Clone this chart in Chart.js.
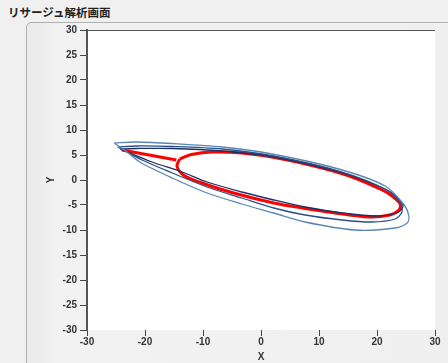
<!DOCTYPE html>
<html>
<head>
<meta charset="utf-8">
<script src="https://cdn.jsdelivr.net/npm/chart.js@4/dist/chart.umd.min.js"></script>
<style>
    html, body { margin: 0; padding: 0; }
    body { width: 448px; height: 363px; background: #f0f0f0; position: relative; overflow: hidden; font-family: "Noto Sans CJK JP", sans-serif; }
    #title { position: absolute; left: 8px; top: 4px; font-size: 11.5px; font-weight: bold; color: #222; }
    #panel { position: absolute; left: 26px; top: 22px; width: 440px; height: 360px; border: 1px solid #b0b0b0; border-radius: 5px; background: linear-gradient(to right, #eaeaea, #f2f2f2 30px, #efefef); }
    #wrap { position: absolute; left: 0; top: 0; width: 448px; height: 363px; }
</style>
</head>
<body>
<div id="title">リサージュ解析画面</div>
<div id="panel"></div>
<div id="wrap"><canvas id="lissajousChart"></canvas></div>
<script>
// tick values
const xTicks = [-30, -20, -10, 0, 10, 20, 30];
const yTicks = [-30, -25, -20, -15, -10, -5, 0, 5, 10, 15, 20, 25, 30];

// outer blue loop
const outerX = [-25.3, -23.1, -20.9, -15.3, -9.3, -3.3, 2.2, 7.6, 16.2, 23.1, 25.2, 25.5, 24.7, 21.4, 13.4, 1.9, -6.7, -15.3, -21.5, -25.3];
const outerY = [7.4, 5.6, 3.6, 0.4, -2.6, -4.8, -6.6, -8.4, -10.0, -9.6, -8.6, -7.2, -5.0, -1.2, 2.2, 5.2, 6.6, 7.3, 7.6, 7.4];

// middle blue loop
const middleX = [-24.7, -20.5, -15.3, -9.3, -3.3, 2.2, 7.6, 14.0, 19.1, 23.1, 24.3, 24.0, 21.7, 14.0, 2.2, -6.7, -15.3, -21.5, -24.7];
const middleY = [6.6, 4.0, 1.4, -1.4, -3.6, -5.6, -7.0, -8.0, -8.4, -7.8, -6.4, -4.6, -2.0, 1.6, 4.8, 6.2, 6.7, 6.8, 6.6];

// inner blue loop
const innerX = [-24.3, -18.8, -13.6, -9.3, -3.3, 2.2, 7.6, 14.0, 20.0, 23.4, 24.5, 23.4, 21.4, 14.0, 2.2, -6.7, -15.3, -21.5, -24.3];
const innerY = [6.2, 3.6, 1.6, -0.4, -2.4, -4.0, -5.4, -6.6, -7.2, -6.6, -5.2, -3.4, -1.8, 1.4, 4.6, 5.8, 6.3, 6.3, 6.2];

// red trace: straight tail into the loop
const redTailX = [-24.0, -14.6];
const redTailY = [6.0, 4.0];
const redLoopX = [-14.0, -14.5, -13.4, -10.2, -4.7, 2.2, 7.1, 12.8, 18.6, 22.2, 23.8, 24.0, 22.6, 20.9, 15.7, 10.5, 2.8, -3.3, -8.4, -12.0, -14.0];
const redLoopY = [4.2, 2.8, 1.0, -0.6, -2.6, -4.6, -5.6, -6.6, -7.4, -7.0, -6.0, -4.8, -3.2, -2.0, 0.6, 2.4, 4.4, 5.4, 5.6, 5.1, 4.2];

function toPoints(xs, ys) {
    return xs.map((x, i) => ({ x: x, y: ys[i] }));
}

function lineSet(xs, ys, color, width, tension) {
    return {
        data: toPoints(xs, ys),
        showLine: true,
        borderColor: color,
        borderWidth: width,
        pointRadius: 0,
        tension: tension,
        fill: false
    };
}

const plotBackground = {
    id: 'plotBackground',
    beforeDraw(chart) {
        const { ctx, chartArea } = chart;
        ctx.save();
        ctx.fillStyle = '#ffffff';
        ctx.fillRect(chartArea.left, chartArea.top, chartArea.right - chartArea.left, chartArea.bottom - chartArea.top);
        ctx.strokeStyle = '#555555';
        ctx.lineWidth = 1;
        ctx.beginPath();
        ctx.moveTo(chartArea.left, chartArea.top + 0.5);
        ctx.lineTo(chartArea.right, chartArea.top + 0.5);
        ctx.stroke();
        ctx.restore();
    }
};

const tickFont = { family: 'Liberation Sans', size: 10, weight: 'bold' };

new Chart(document.getElementById('lissajousChart'), {
    type: 'scatter',
    data: {
        datasets: [
            lineSet(outerX, outerY, '#5a86b4', 1.3, 0.3),
            lineSet(middleX, middleY, '#2a4f86', 1.3, 0.3),
            lineSet(innerX, innerY, '#1c2f66', 1.3, 0.3),
            lineSet(redTailX, redTailY, '#ff0000', 3, 0),
            lineSet(redLoopX, redLoopY, '#ff0000', 3, 0.3)
        ]
    },
    plugins: [plotBackground],
    options: {
        responsive: true,
        maintainAspectRatio: false,
        animation: false,
        layout: { padding: { left: 45, top: 30, right: 13, bottom: 0 } },
        plugins: {
            legend: { display: false },
            tooltip: { enabled: false }
        },
        scales: {
            x: {
                type: 'linear',
                min: -30,
                max: 30,
                afterBuildTicks: scale => { scale.ticks = xTicks.map(v => ({ value: v })); },
                afterFit: scale => { scale.height = 33; },
                border: { display: false },
                grid: { drawOnChartArea: false, drawTicks: true, tickLength: 6, color: '#444' },
                ticks: { color: '#333', font: tickFont, padding: 0, maxRotation: 0 },
                title: { display: true, text: 'X', color: '#333', font: tickFont, padding: { top: 0, bottom: 0 } }
            },
            y: {
                type: 'linear',
                min: -30,
                max: 30,
                afterBuildTicks: scale => { scale.ticks = yTicks.map(v => ({ value: v })); },
                afterFit: scale => { scale.width = 42; },
                border: { display: true, color: '#555', width: 2 },
                grid: { drawOnChartArea: false, drawTicks: true, tickLength: 7, color: '#444' },
                ticks: { color: '#333', font: tickFont, padding: 3 },
                title: { display: true, text: 'Y', color: '#333', font: tickFont, padding: { top: 0, bottom: 8 } }
            }
        }
    }
});
</script>
</body>
</html>
